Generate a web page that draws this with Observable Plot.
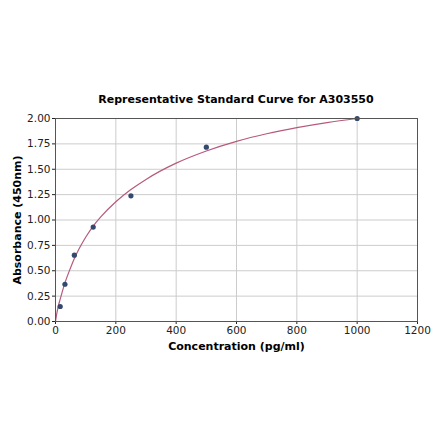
<!DOCTYPE html>
<html>
<head>
<meta charset="utf-8">
<script src="https://cdn.jsdelivr.net/npm/d3@7"></script>
<script src="https://cdn.jsdelivr.net/npm/@observablehq/plot@0.6"></script>
<style>
  body { margin: 0; background: #fff; font-family: "DejaVu Sans", sans-serif; }
  #title { height: 111px; width: 440px; box-sizing: border-box; padding-top: 93px; padding-left: 32px;
    text-align: center; font-weight: bold; font-size: 11px; color: #000; }
</style>
</head>
<body>
<div id="title">Representative Standard Curve for A303550</div>
<div id="chart"></div>
<script>
/* global d3, Plot */

// standards (pg/ml) and measured absorbance
const conc = [15.625, 31.25, 62.5, 125, 250, 500, 1000];
const absorb = [0.148, 0.367, 0.653, 0.93, 1.238, 1.717, 2.0];

// fitted curve
const fitX = [0, 5, 10, 15.6, 31.25, 50, 62.5, 100, 125, 150, 200, 250, 300, 400, 500, 600, 700, 800, 900, 1000];
const fitY = [0, 0.09, 0.16, 0.22, 0.38, 0.53, 0.62, 0.83, 0.94, 1.03, 1.18, 1.30, 1.40, 1.56, 1.68, 1.775, 1.85, 1.91, 1.96, 2.0];

const xTicks = [0, 200, 400, 600, 800, 1000, 1200];
const yTicks = [0, 0.25, 0.5, 0.75, 1.0, 1.25, 1.5, 1.75, 2.0];

const points = conc.map((x, i) => ({ x, y: absorb[i] }));
const curve = fitX.map((x, i) => ({ x, y: fitY[i] }));

const chart = Plot.plot({
  width: 440,
  height: 330,
  marginLeft: 55,
  marginRight: 23,
  marginTop: 7,
  marginBottom: 120,
  style: { fontFamily: "DejaVu Sans, sans-serif", fontSize: "10.5px", color: "#222" },
  x: { domain: [0, 1200] },
  y: { domain: [0, 2] },
  marks: [
    Plot.gridX(xTicks, { stroke: "#ccc", strokeOpacity: 1 }),
    Plot.gridY(yTicks, { stroke: "#ccc", strokeOpacity: 1 }),
    Plot.axisX(xTicks, { tickSize: 3, tickPadding: 2, tickFormat: d3.format("d"), label: null }),
    Plot.axisY(yTicks, { tickSize: 3, tickPadding: 2, tickFormat: d3.format(".2f"), label: null }),
    Plot.line(curve, { x: "x", y: "y", stroke: "#b65a7d", strokeWidth: 1.2, curve: "monotone-x" }),
    Plot.dot(points, { x: "x", y: "y", r: 2.6, fill: "#33496f", stroke: null }),
    Plot.frame({ stroke: "#555", strokeWidth: 1 }),
    Plot.text(["Concentration (pg/ml)"], {
      frameAnchor: "bottom", dy: 28, fontWeight: "bold", fontSize: 11, fill: "#000"
    }),
    Plot.text(["Absorbance (450nm)"], {
      frameAnchor: "left", dx: -38, rotate: -90, textAnchor: "middle",
      fontWeight: "bold", fontSize: 11, fill: "#000"
    })
  ]
});

document.getElementById("chart").append(chart);
</script>
</body>
</html>
